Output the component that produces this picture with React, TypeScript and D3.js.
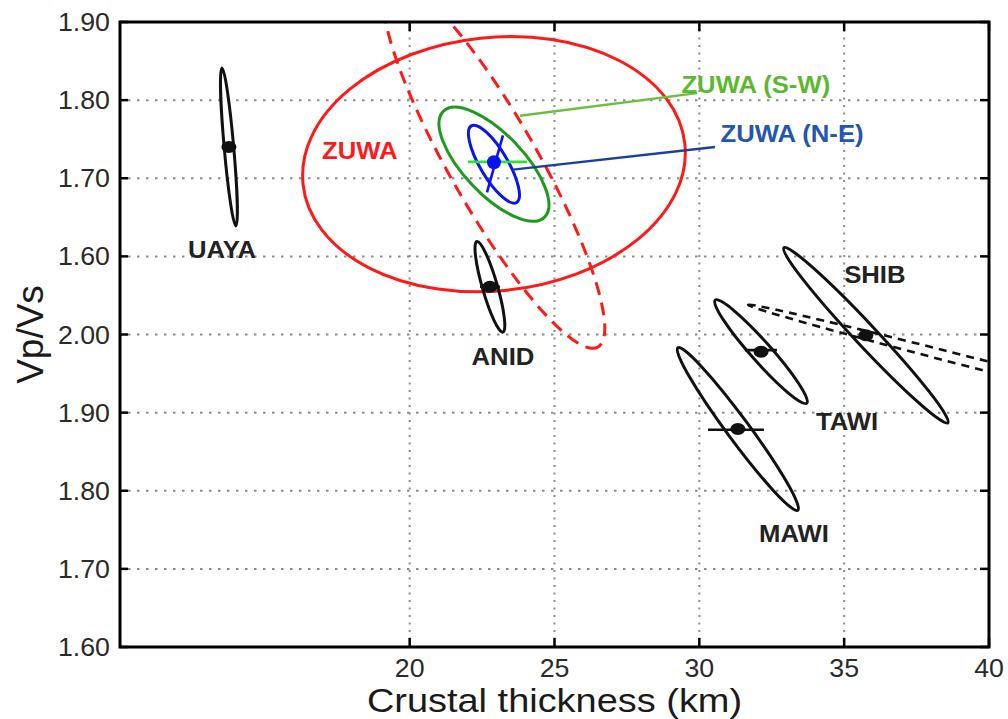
import React from "react";
import * as d3 from "d3";

const W = 1008;
const H = 719;
const plotLeft = 120;
const plotRight = 989;
const plotTop = 22;
const plotBottom = 647;

const xDomain = [10, 40];
const yDomain = [1.6, 2.4];
const xTickValues = [20, 25, 30, 35, 40];
const xTickLabels = ["20", "25", "30", "35", "40"];
const xGridValues = [20, 25, 30, 35];
const yTickValues = [1.6, 1.7, 1.8, 1.9, 2.0, 2.1, 2.2, 2.3, 2.4];
const yTickLabels = ["1.60", "1.70", "1.80", "1.90", "2.00", "1.60", "1.70", "1.80", "1.90"];

// Stations (black): centre, end of major axis, minor/major ratio
const stationNames = ["UAYA", "ANID", "SHIB", "TAWI", "MAWI"];
const stationX = [13.76, 22.77, 35.75, 32.13, 31.33];
const stationV = [2.24, 2.061, 1.999, 1.978, 1.879];
const stationTipX = [13.52, 23.22, 38.58, 33.71, 33.4];
const stationTipV = [2.341, 2.003, 1.887, 1.912, 1.775];
const stationRatio = [0.06, 0.16, 0.09, 0.145, 0.11];

// ZUWA ellipses
const zuwaCenter = [22.91, 2.218];
const zuwaNames = ["ZUWA", "ZUWA dashed", "ZUWA (S-W)", "ZUWA (N-E)"];
const zuwaTipX = [29.5, 26.5, 24.65, 23.69];
const zuwaTipV = [2.244, 1.984, 2.15, 2.169];
const zuwaRatio = [0.66, 0.21, 0.41, 0.31];
const zuwaColors = ["#ff1a1a", "#ff1a1a", "#1f9a1f", "#0a14f0"];
const zuwaDash = ["", "13,8", "", ""];

// SHIB dashed ellipse (partly outside the box)
const shibDashCenter = [40.38, 1.955];
const shibDashTip = [31.68, 2.038];
const shibDashRatio = 0.019;

// error bars [x1, v1, x2, v2]
const errNames = ["TAWI", "MAWI", "ANID", "ZUWA (S-W)", "ZUWA (N-E)"];
const errX1 = [31.57, 30.3, 22.43, 22.01, 23.22];
const errV1 = [1.98, 1.878, 2.061, 2.221, 2.255];
const errX2 = [32.68, 32.23, 23.12, 24.05, 22.67];
const errV2 = [1.98, 1.878, 2.061, 2.221, 2.182];
const errColors = ["#111", "#111", "#111", "#33dd33", "#0a14f0"];

// leader lines
const leaderX1 = [23.81, 23.57];
const leaderV1 = [2.28, 2.211];
const leaderX2 = [29.92, 30.54];
const leaderV2 = [2.309, 2.24];
const leaderColors = ["#6cbf3a", "#1c3f9e"];

// labels
const labelTexts = ["ZUWA (S-W)", "ZUWA (N-E)", "ZUWA", "UAYA", "ANID", "SHIB", "TAWI", "MAWI"];
const labelX = [31.95, 33.2, 18.28, 13.52, 23.22, 36.06, 35.1, 33.27];
const labelV = [2.309, 2.246, 2.225, 2.098, 1.961, 2.066, 1.878, 1.734];
const labelColors = ["#5cb82e", "#2356b0", "#ff1a1a", "#222", "#222", "#222", "#222", "#222"];

const FONT = "'Liberation Sans', Arial, Helvetica, sans-serif";

export default function App() {
  const x = d3.scaleLinear().domain(xDomain).range([plotLeft, plotRight]);
  const y = d3.scaleLinear().domain(yDomain).range([plotBottom, plotTop]);

  const ellipse = (
    cx: number, cv: number, tx: number, tv: number, ratio: number,
    stroke: string, sw: number, dash: string, key: string
  ) => {
    const px = x(cx), py = y(cv);
    const mx = x(tx) - px, my = y(tv) - py;
    const a = Math.hypot(mx, my);
    const ang = (Math.atan2(my, mx) * 180) / Math.PI;
    return (
      <ellipse
        key={key}
        cx={0}
        cy={0}
        rx={a}
        ry={a * ratio}
        transform={`translate(${px},${py}) rotate(${ang})`}
        fill="none"
        stroke={stroke}
        strokeWidth={sw}
        strokeDasharray={dash || undefined}
      />
    );
  };

  const txt = (
    key: string, tx: number, ty: number, s: string, size: number,
    weight: string | number, fill: string, anchor: string, sx = 1.07
  ) => (
    <text
      key={key}
      transform={`translate(${tx},${ty}) scale(${sx},1)`}
      textAnchor={anchor as any}
      fontSize={size}
      fontWeight={weight}
      fill={fill}
      fontFamily={FONT}
    >
      {s}
    </text>
  );

  return (
    <svg
      width={W}
      height={H}
      style={{ position: "absolute", left: 0, top: 0, background: "#fff" }}
    >
      <defs>
        <clipPath id="plotClip">
          <rect x={plotLeft} y={plotTop} width={plotRight - plotLeft} height={plotBottom - plotTop} />
        </clipPath>
      </defs>
      <rect x={0} y={0} width={W} height={H} fill="#fff" />

      {/* grid */}
      <g stroke="#8a8a8a" strokeWidth={2}>
        {yTickValues.slice(1, -1).map((v) => (
          <line key={"hg" + v} x1={plotLeft + 8} x2={plotRight - 8} y1={y(v)} y2={y(v)} strokeDasharray="2.5,6.5" />
        ))}
        {xGridValues.map((v) => (
          <line key={"vg" + v} x1={x(v)} x2={x(v)} y1={plotTop + 8} y2={plotBottom - 8} strokeDasharray="2,5.5" />
        ))}
      </g>

      <g clipPath="url(#plotClip)">
        {/* ZUWA ellipses */}
        {zuwaNames.map((n, i) =>
          ellipse(zuwaCenter[0], zuwaCenter[1], zuwaTipX[i], zuwaTipV[i], zuwaRatio[i], zuwaColors[i], 3, zuwaDash[i], "z" + i)
        )}
        {ellipse(shibDashCenter[0], shibDashCenter[1], shibDashTip[0], shibDashTip[1], shibDashRatio, "#111", 2.6, "8,6", "shibd")}
        {/* station ellipses */}
        {stationNames.map((n, i) =>
          ellipse(stationX[i], stationV[i], stationTipX[i], stationTipV[i], stationRatio[i], "#111", 3, "", "s" + i)
        )}
        {/* leader lines */}
        {leaderX1.map((_, i) => (
          <line
            key={"ld" + i}
            x1={x(leaderX1[i])}
            y1={y(leaderV1[i])}
            x2={x(leaderX2[i])}
            y2={y(leaderV2[i])}
            stroke={leaderColors[i]}
            strokeWidth={2.4}
          />
        ))}
        {/* error bars */}
        {errNames.map((n, i) => (
          <line
            key={"eb" + i}
            x1={x(errX1[i])}
            y1={y(errV1[i])}
            x2={x(errX2[i])}
            y2={y(errV2[i])}
            stroke={errColors[i]}
            strokeWidth={2.6}
          />
        ))}
        {/* centre dots */}
        {stationNames.map((n, i) => (
          <ellipse key={"d" + i} cx={x(stationX[i])} cy={y(stationV[i])} rx={7.5} ry={6} fill="#111" />
        ))}
        <circle cx={x(zuwaCenter[0])} cy={y(zuwaCenter[1]) - 2} r={7} fill="#0a14f0" />
      </g>

      {/* labels */}
      {labelTexts.map((s, i) =>
        txt("lb" + i, x(labelX[i]), y(labelV[i]), s, 24, "bold", labelColors[i], "middle")
      )}

      {/* axes box */}
      <rect
        x={plotLeft}
        y={plotTop}
        width={plotRight - plotLeft}
        height={plotBottom - plotTop}
        fill="none"
        stroke="#000"
        strokeWidth={3}
      />
      {/* ticks */}
      <g stroke="#000" strokeWidth={2.5}>
        {yTickValues.map((v) => (
          <g key={"yt" + v}>
            <line x1={plotLeft} x2={plotLeft + 8} y1={y(v)} y2={y(v)} />
            <line x1={plotRight} x2={plotRight - 9} y1={y(v)} y2={y(v)} />
          </g>
        ))}
        {xTickValues.map((v) => (
          <g key={"xt" + v}>
            <line x1={x(v)} x2={x(v)} y1={plotBottom} y2={plotBottom - 9} />
            <line x1={x(v)} x2={x(v)} y1={plotTop} y2={plotTop + 9} />
          </g>
        ))}
      </g>

      {/* tick labels */}
      {yTickValues.map((v, i) => txt("yl" + i, 110, y(v) + 9, yTickLabels[i], 25, "normal", "#2a2a2a", "end"))}
      {xTickValues.map((v, i) => txt("xl" + i, x(v), 676.5, xTickLabels[i], 25, "normal", "#2a2a2a", "middle"))}

      {/* axis titles */}
      {txt("xtitle", (plotLeft + plotRight) / 2, 712, "Crustal thickness (km)", 33, "normal", "#1a1a1a", "middle", 1.15)}
      <text
        transform={`translate(43,${(plotTop + plotBottom) / 2}) rotate(-90)`}
        textAnchor="middle"
        fontSize={37}
        fill="#1a1a1a"
        fontFamily={FONT}
      >
        Vp/Vs
      </text>
    </svg>
  );
}
